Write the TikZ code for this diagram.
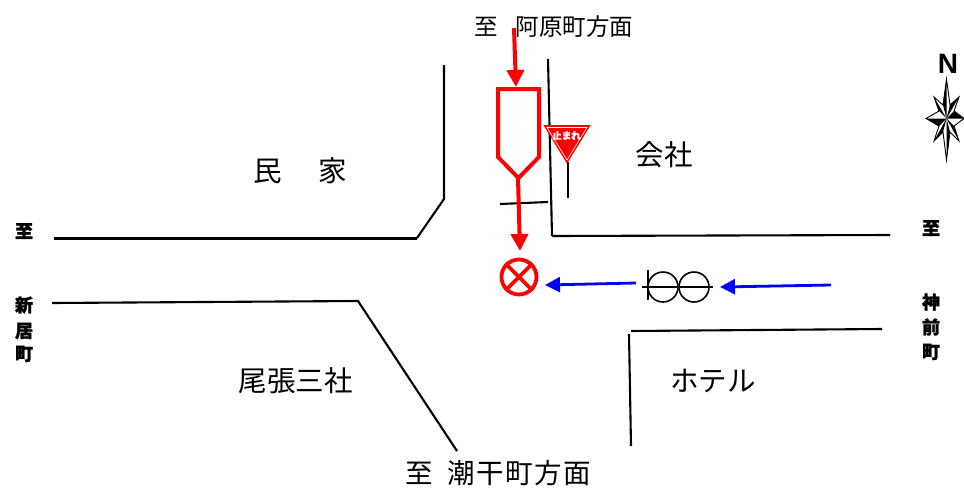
\documentclass[tikz,border=0pt]{standalone}
\usepackage{fontspec}
\usepackage{xcolor}
\setmainfont{Liberation Sans}
\newfontfamily\jpfont[BoldFeatures={FakeBold=1.4}]{Noto Sans CJK JP}
\usetikzlibrary{arrows.meta}
\definecolor{signalred}{RGB}{255,0,0}
\definecolor{flowblue}{RGB}{0,0,255}
\tikzset{
	roadline/.style={black, line width=2.1pt},
	placename/.style={font=\jpfont\fontsize{28.5}{28.5}\selectfont, inner sep=0pt},
	sidename/.style={font=\jpfont\bfseries\fontsize{18}{18}\selectfont, inner sep=0pt},
	redarrow/.style={signalred, line width=4pt, -{Triangle[width=17pt,length=17pt]}},
	bluearrow/.style={flowblue, line width=2.8pt, -{Triangle[width=15pt,length=15pt]}}
}
\begin{document}
\begin{tikzpicture}[x=1pt,y=-1pt]
	\useasboundingbox (0,0) rectangle (964,488);

	% roads
	\draw[roadline] (444,65) -- (444,199) -- (417,238);
	\draw[black, line width=3pt] (417,238) -- (54,238);
	\draw[roadline] (52,303) -- (358,301) -- (457,451);
	\draw[roadline] (548,59) -- (552,236);
	\draw[roadline] (552,236) -- (890,235);
	\draw[roadline] (500,204) -- (548,202);
	\draw[roadline] (631,331) -- (882,329);
	\draw[roadline] (629,334) -- (631,446);

	% place names
	\node[placename, font=\jpfont\fontsize{23.5}{23.5}\selectfont] (origin) at (554,27) {至\hspace{18pt}阿原町方面};
	\node[placename] (house) at (300.5,171) {民\hspace{37pt}家};
	\node[placename] (company) at (664,155) {会社};
	\node[placename] (shrine) at (295.5,381) {尾張三社};
	\node[placename] (hotel) at (713,381) {ホテル};
	\node[placename, font=\jpfont\fontsize{27.5}{27.5}\selectfont\addfontfeature{LetterSpace=6}] (dest) at (498.5,473.5) {至\hspace{14pt}潮干町方面};

	% side names
	\node[sidename] (westa) at (24,231) {至};
	\node[sidename] (westb) at (24,305) {新};
	\node[sidename] (westc) at (24,331) {居};
	\node[sidename] (westd) at (24,354) {町};
	\node[sidename] (easta) at (931,228) {至};
	\node[sidename] (eastb) at (931,302) {神};
	\node[sidename] (eastc) at (931,327) {前};
	\node[sidename] (eastd) at (931,352) {町};

	% car and its path
	\coordinate (cartop) at (516,87);
	\coordinate (carnose) at (518,178);
	\draw[redarrow] (514,28) -- (cartop);
	\draw[signalred, line width=4pt, fill=white, miter limit=2] (498,89) -- (539,89) -- (539,157) -- (518.5,178) -- (498,157) -- cycle;
	\draw[redarrow] (carnose) -- (520,251);

	% stop sign
	\draw[roadline] (568,162) -- (568,198);
	\filldraw[fill=signalred, draw=signalred, line width=0.6pt] (544,125.5) -- (590,125.5) -- (567,163) -- cycle;
	\draw[white, line width=0.6pt] (547,127.5) -- (587,127.5) -- (567,160) -- cycle;
	\node[inner sep=0pt, text=white, font=\jpfont\bfseries\fontsize{9.5}{9.5}\selectfont] (stop) at (566.5,135.5) {止まれ};

	% flashing lamp
	\node[circle, draw=signalred, line width=3.8pt, minimum size=35pt, inner sep=0pt] (lamp) at (519,277) {};
	\draw[signalred, line width=3.8pt] (lamp.north west) -- (lamp.south east);
	\draw[signalred, line width=3.8pt] (lamp.north east) -- (lamp.south west);

	% signal
	\node[circle, draw=black, line width=1.6pt, minimum size=30pt, inner sep=0pt] (lighta) at (663,287) {};
	\node[circle, draw=black, line width=1.6pt, minimum size=30pt, inner sep=0pt] (lightb) at (694,287) {};
	\coordinate (barl) at (642,287);
	\coordinate (barr) at (713,287);
	\draw[black, line width=1.6pt] (barl) -- (barr);
	\draw[black, line width=2pt] (648,270) -- (648,300);

	% traffic
	\draw[bluearrow] (636,283) -- (545,285);
	\draw[bluearrow] (831,285) -- (720,287);

	% north mark
	\node[inner sep=0pt, font=\fontsize{28}{28}\selectfont] (north) at (948,64) {\textbf{N}};
	\coordinate (star) at (946.5,118.5);
	\draw[black, line width=0.9pt, fill=white] (946.5,79) -- (950,105) -- (959,97) -- (954,111) -- (964,118.5) -- (954,126) -- (959,141) -- (950,132) -- (946.5,160) -- (943,132) -- (934,141) -- (939,126) -- (926,118.5) -- (939,111) -- (934,97) -- (943,105) -- cycle;
	\fill[black] (star) -- (946.5,79) -- (943,105) -- cycle;
	\fill[black] (star) -- (964,118.5) -- (954,111) -- cycle;
	\fill[black] (star) -- (946.5,160) -- (950,132) -- cycle;
	\fill[black] (star) -- (926,118.5) -- (939,126) -- cycle;
	\fill[black] (star) -- (959,97) -- (950,105) -- cycle;
	\fill[black] (star) -- (959,141) -- (954,126) -- cycle;
	\fill[black] (star) -- (934,141) -- (943,132) -- cycle;
	\fill[black] (star) -- (934,97) -- (939,111) -- cycle;
\end{tikzpicture}
\end{document}
